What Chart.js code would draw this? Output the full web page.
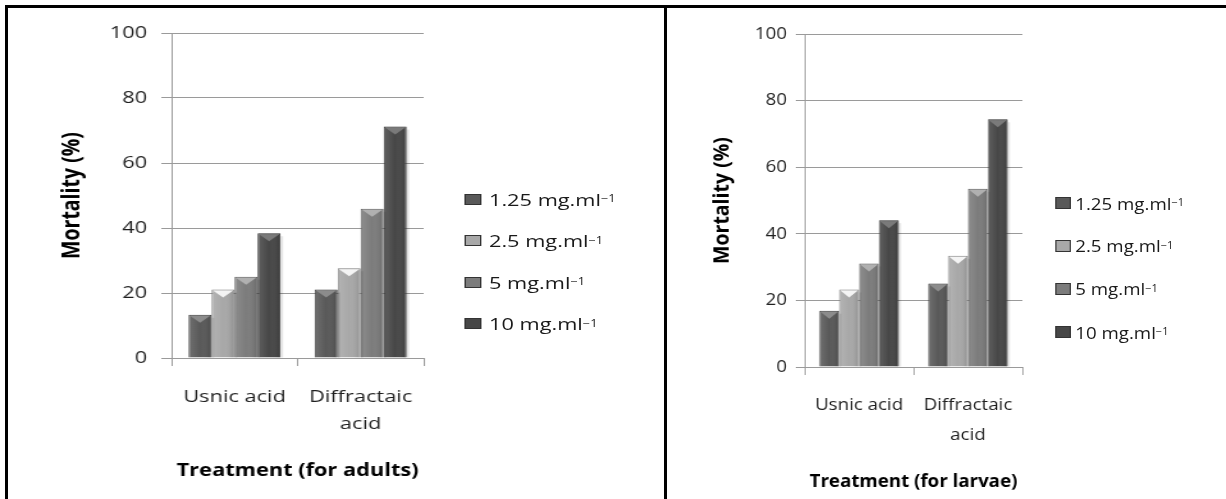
<!DOCTYPE html>
<html>
<head>
<meta charset="utf-8">
<script src="https://cdn.jsdelivr.net/npm/chart.js@4.4.1/dist/chart.umd.min.js"></script>
<style>
  html, body { margin: 0; padding: 0; background: #fff; }
  body { width: 1226px; height: 499px; position: relative; overflow: hidden; font-family: "Open Sans", sans-serif; }
  #frame { position: absolute; left: 5px; top: 5px; width: 1240px; height: 520px; border-left: 3px solid #000; border-top: 3px solid #000; z-index: 5; }
  #divider { position: absolute; left: 664px; top: 5px; width: 3px; height: 520px; background: #000; z-index: 5; }
  .panel { position: absolute; top: 0; width: 500px; height: 499px; transform-origin: 0 0; }
  .panel canvas { position: absolute; left: 0; top: 0; }
  .legend { position: absolute; left: 0; top: 0; }
  .legend .item { position: absolute; display: flex; align-items: center; height: 20px; font-size: 17px; color: #1a1a1a; white-space: nowrap; }
  .legend .box { display: inline-block; box-sizing: border-box; border: 1px solid #333; }
  .legend sup { font-size: 10px; position: relative; top: -1px; }
</style>
</head>
<body>
<div id="frame"></div>
<div id="divider"></div>

<div class="panel" id="leftPanel" style="left:0px; transform: scaleX(1.28);">
  <canvas id="adults" width="346" height="499"></canvas>
  <div class="legend" id="legendAdults"></div>
</div>

<div class="panel" id="rightPanel" style="left:666px; transform: scaleX(1.1);">
  <canvas id="larvae" width="340" height="499"></canvas>
  <div class="legend" id="legendLarvae"></div>
</div>

<script>
// categorias e doses
var categories = ["Usnic acid", ["Diffractaic", "acid"]];
var doses = ["1.25", "2.5", "5", "10"];
var doseUnit = "mg.ml";
var yTicks = [0, 20, 40, 60, 80, 100];

// mortalidade (%) - adultos
var adults125 = [13.3, 21.1];
var adults25 = [21.1, 27.6];
var adults5 = [25.0, 45.9];
var adults10 = [38.4, 71.2];

// mortalidade (%) - larvas
var larvae125 = [16.9, 25.1];
var larvae25 = [23.3, 33.4];
var larvae5 = [31.1, 53.5];
var larvae10 = [44.1, 74.4];

var fillColors = ["#595959", "#a8a8a8", "#7c7c7c", "#474747"];
var edgeColors = ["#3a3a3a", "#7e7e7e", "#585858", "#2c2c2c"];
var bevelColors = ["#8c8c8c", "#f4f4f4", "#b0b0b0", "#7a7a7a"];

// desenha o "bisel" no topo de cada barra (estilo excel)
var bevelPlugin = {
  id: "bevel",
  afterDatasetsDraw: function (chart) {
    var ctx = chart.ctx;
    chart.data.datasets.forEach(function (ds, i) {
      var meta = chart.getDatasetMeta(i);
      meta.data.forEach(function (bar) {
        var half = bar.width / 2 - 1;
        var h = Math.min(8, Math.abs(bar.base - bar.y) / 2);
        ctx.save();
        // degrade horizontal leve
        var g = ctx.createLinearGradient(bar.x - half, 0, bar.x + half, 0);
        g.addColorStop(0, "rgba(255,255,255,0.12)");
        g.addColorStop(0.5, "rgba(255,255,255,0)");
        g.addColorStop(1, "rgba(0,0,0,0.12)");
        ctx.fillStyle = g;
        ctx.fillRect(bar.x - half, bar.y + 1, half * 2, bar.base - bar.y - 1);
        ctx.fillStyle = bevelColors[i];
        ctx.beginPath();
        ctx.moveTo(bar.x - half, bar.y + 1);
        ctx.lineTo(bar.x + half, bar.y + 1);
        ctx.lineTo(bar.x + half - h, bar.y + h);
        ctx.lineTo(bar.x - half + h, bar.y + h);
        ctx.closePath();
        ctx.fill();
        // sombrinha na direita da barra
        ctx.fillStyle = "rgba(0,0,0,0.10)";
        ctx.fillRect(bar.x + half + 1, bar.y + 3, 2, bar.base - bar.y - 3);
        ctx.restore();
      });
    });
  }
};

makeChart("adults", [adults125, adults25, adults5, adults10], {
  title: "Treatment (for adults)",
  pad: { left: 45, right: 15, top: 33, bottom: 18 },
  yWidth: 89,
  xHeight: 123,
  yTickPad: 11,
  xTickPad: 18,
  xLineHeight: 1.56
});

makeChart("larvae", [larvae125, larvae25, larvae5, larvae10], {
  title: "Treatment (for larvae)",
  pad: { left: 40, right: 16, top: 34, bottom: 7 },
  yWidth: 86,
  xHeight: 125,
  yTickPad: 8,
  xTickPad: 15,
  xLineHeight: 1.76
});

makeLegend("legendAdults", { boxLeft: 363, boxW: 13, boxH: 11, gap: 6, centers: [199, 240.5, 282, 323.5] });
makeLegend("legendLarvae", { boxLeft: 354, boxW: 14, boxH: 12, gap: 4, centers: [203, 245.5, 288.5, 332] });

function makeChart(id, series, cfg) {
  var datasets = [];
  for (var i = 0; i < series.length; i++) {
    datasets.push({
      label: doses[i] + " " + doseUnit + "\u207B\u00B9",
      data: series[i],
      backgroundColor: fillColors[i],
      borderColor: edgeColors[i],
      borderWidth: 1,
      barPercentage: 1.0,
      categoryPercentage: 0.73
    });
  }

  var ctx = document.getElementById(id).getContext("2d");
  new Chart(ctx, {
    type: "bar",
    data: { labels: categories, datasets: datasets },
    plugins: [bevelPlugin],
    options: {
      responsive: false,
      animation: false,
      devicePixelRatio: 1,
      layout: { padding: cfg.pad },
      plugins: {
        legend: { display: false },
        tooltip: { enabled: false }
      },
      scales: {
        x: {
          grid: {
            offset: true,
            drawOnChartArea: false,
            drawTicks: true,
            tickLength: 8,
            color: "#9a9a9a"
          },
          border: { display: true, color: "#9a9a9a" },
          ticks: {
            autoSkip: false,
            maxRotation: 0,
            minRotation: 0,
            padding: cfg.xTickPad,
            color: "#1f1f1f",
            font: { family: "Open Sans", size: 17, lineHeight: cfg.xLineHeight }
          },
          title: {
            display: true,
            text: cfg.title,
            color: "#000",
            padding: { top: 0, bottom: 0 },
            font: { family: "Open Sans", size: 17, weight: "bold", lineHeight: 1.2 }
          },
          afterFit: function (scale) { scale.height = cfg.xHeight; }
        },
        y: {
          min: 0,
          max: 100,
          afterBuildTicks: function (scale) {
            scale.ticks = yTicks.map(function (v) { return { value: v }; });
          },
          grid: {
            color: "#9a9a9a",
            tickLength: 8,
            drawTicks: true
          },
          border: { display: true, color: "#9a9a9a" },
          ticks: {
            padding: cfg.yTickPad,
            color: "#1f1f1f",
            font: { family: "Open Sans", size: 17 }
          },
          title: {
            display: true,
            text: "Mortality (%)",
            color: "#000",
            padding: { top: 0, bottom: 0 },
            font: { family: "Open Sans", size: 19.5, weight: "bold", lineHeight: 1.2 }
          },
          afterFit: function (scale) { scale.width = cfg.yWidth; }
        }
      }
    }
  });
}

function makeLegend(id, cfg) {
  var el = document.getElementById(id);
  var html = "";
  for (var i = 0; i < doses.length; i++) {
    html +=
      "<div class='item' style='left:" + cfg.boxLeft + "px;top:" + (cfg.centers[i] - 10) + "px'>" +
      "<span class='box' style='width:" + cfg.boxW + "px;height:" + cfg.boxH + "px;background:" + fillColors[i] +
      ";margin-right:" + cfg.gap + "px'></span>" +
      doses[i] + " " + doseUnit + "<sup>\u22121</sup></div>";
  }
  el.innerHTML = html;
}
</script>
</body>
</html>
